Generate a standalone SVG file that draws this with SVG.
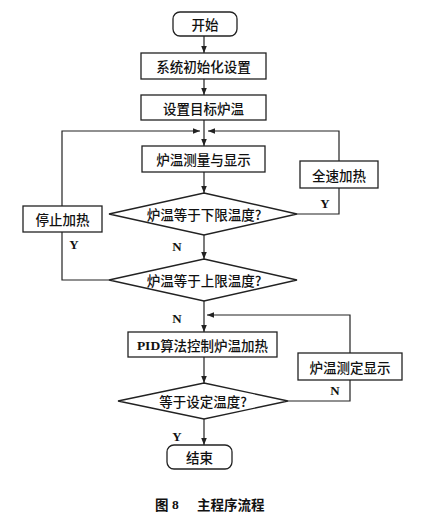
<svg xmlns="http://www.w3.org/2000/svg" width="448" height="516" viewBox="0 0 448 516">
<defs>
<marker id="arr" viewBox="0 0 10 10" refX="10" refY="5" markerWidth="7" markerHeight="7" markerUnits="userSpaceOnUse" orient="auto">
<path d="M0,1 L10,5 L0,9 Z" fill="#222"/>
</marker>
<style>
.box{fill:#fff;stroke:#222;stroke-width:1.3}
.ln{fill:none;stroke:#222;stroke-width:1.2}
.t{font-family:"Noto Sans CJK SC","Noto Sans",sans-serif;font-size:13.5px;font-weight:500;fill:#111;text-anchor:middle;dominant-baseline:central}
.yn{font-family:"Liberation Serif",serif;font-weight:bold;font-size:13px;fill:#111;text-anchor:middle;dominant-baseline:central}
.cap{font-family:"Noto Sans CJK SC",sans-serif;font-weight:bold;font-size:13.5px;fill:#111;dominant-baseline:central}
</style>
</defs>
<rect width="448" height="516" fill="#fff"/>
<g id="connectors">
<path class="ln" d="M204,36 V53" marker-end="url(#arr)"/>
<path class="ln" d="M204,79 V95" marker-end="url(#arr)"/>
<path class="ln" d="M204,120 V146" marker-end="url(#arr)"/>
<path class="ln" d="M109,280 H62 V131 H200" marker-end="url(#arr)"/>
<path class="ln" d="M297,214 H339 V131 H208" marker-end="url(#arr)"/>
<path class="ln" d="M204,172 V193" marker-end="url(#arr)"/>
<path class="ln" d="M204,235 V259" marker-end="url(#arr)"/>
<path class="ln" d="M204,301 V332" marker-end="url(#arr)"/>
<path class="ln" d="M288,401 H350 V315 H207" marker-end="url(#arr)"/>
<path class="ln" d="M204,357 V383" marker-end="url(#arr)"/>
<path class="ln" d="M204,419 V445" marker-end="url(#arr)"/>
</g>
<g id="start"><rect class="box" x="173" y="12" width="64" height="24" rx="7"/><text class="t" x="205" y="24">开始</text></g>
<g id="init"><rect class="box" x="141" y="53" width="125" height="26"/><text class="t" x="203.5" y="66">系统初始化设置</text></g>
<g id="settarget"><rect class="box" x="141" y="95" width="125" height="25"/><text class="t" x="203.5" y="107.5">设置目标炉温</text></g>
<g id="measure"><rect class="box" x="142" y="146" width="123" height="26"/><text class="t" x="203.5" y="159">炉温测量与显示</text></g>
<g id="fullheat"><rect class="box" x="300" y="161" width="78" height="27"/><text class="t" x="339" y="174.5">全速加热</text></g>
<g id="stopheat"><rect class="box" x="23" y="206" width="79" height="26"/><text class="t" x="62.5" y="219">停止加热</text></g>
<g id="dec1"><polygon class="box" points="204,193 297,214 204,235 109,214"/><text class="t" x="204" y="214">炉温等于下限温度?</text></g>
<g id="dec2"><polygon class="box" points="204,259 297,280 204,301 109,280"/><text class="t" x="204" y="280">炉温等于上限温度?</text></g>
<g id="pid"><rect class="box" x="128" y="332" width="149" height="25"/><text class="t" x="202.5" y="344.5"><tspan font-family="Liberation Serif,serif" font-weight="bold">PID</tspan>算法控制炉温加热</text></g>
<g id="measure2"><rect class="box" x="298" y="353" width="104" height="27"/><text class="t" x="350" y="366.5">炉温测定显示</text></g>
<g id="dec3"><polygon class="box" points="204,383 288,401 204,419 118,401"/><text class="t" x="203" y="401">等于设定温度?</text></g>
<g id="end"><rect class="box" x="167" y="445" width="65" height="24" rx="7"/><text class="t" x="199.5" y="457">结束</text></g>
<g id="labels">
<text class="yn" x="325" y="203">Y</text>
<text class="yn" x="74" y="244">Y</text>
<text class="yn" x="177" y="246">N</text>
<text class="yn" x="177" y="318">N</text>
<text class="yn" x="335" y="390">N</text>
<text class="yn" x="177" y="436">Y</text>
<text class="cap" x="155" y="504">图<tspan x="172" font-family="Liberation Serif,serif">8</tspan><tspan x="197">主程序流程</tspan></text>
</g>
</svg>
